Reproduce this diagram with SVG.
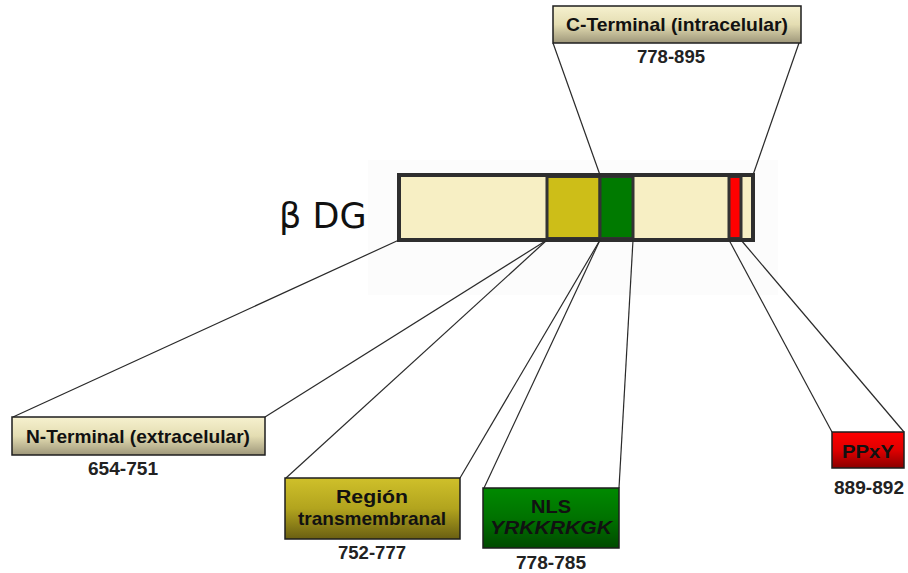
<svg xmlns="http://www.w3.org/2000/svg" width="908" height="573" viewBox="0 0 908 573">
<defs>
<linearGradient id="gBeige" x1="0" y1="0" x2="0" y2="1">
<stop offset="0" stop-color="#F6F1CF"/><stop offset="0.5" stop-color="#E4DDB2"/><stop offset="1" stop-color="#9E977A"/>
</linearGradient>
<linearGradient id="gOlive" x1="0" y1="0" x2="0" y2="1">
<stop offset="0" stop-color="#CFC02A"/><stop offset="0.5" stop-color="#B2A41E"/><stop offset="1" stop-color="#6A5F12"/>
</linearGradient>
<linearGradient id="gGreen" x1="0" y1="0" x2="0" y2="1">
<stop offset="0" stop-color="#008A00"/><stop offset="0.5" stop-color="#007200"/><stop offset="1" stop-color="#004A00"/>
</linearGradient>
<linearGradient id="gRed" x1="0" y1="0" x2="0" y2="1">
<stop offset="0" stop-color="#FF0000"/><stop offset="0.5" stop-color="#E00000"/><stop offset="1" stop-color="#8A0000"/>
</linearGradient>
</defs>
<style>
.box{stroke:#1E1E1E;stroke-width:1.5}
.lbl{font-family:"Liberation Sans",Arial,sans-serif;font-weight:bold;font-size:19px;fill:#111;text-anchor:middle}
.num{font-family:"Liberation Sans",Arial,sans-serif;font-weight:bold;font-size:18px;fill:#222;text-anchor:middle}
.seg{stroke:#333;stroke-width:3}
.conn line{stroke:#2a2a2a;stroke-width:1.2}
</style>
<rect x="0" y="0" width="908" height="573" fill="#FFFFFF"/>
<rect x="368" y="160" width="410" height="135" fill="#FCFCFC"/>

<g id="protein">
<text x="279" y="228" font-family="DejaVu Sans,Verdana,sans-serif" font-size="35" fill="#111">β DG</text>
<rect x="399" y="175" width="354" height="65" fill="#F7EFC4" stroke="#2E2E2E" stroke-width="4"/>
<rect x="547" y="176.5" width="53" height="62" fill="#CDBE18" class="seg"/>
<rect x="600" y="176.5" width="33" height="62" fill="#007A00" class="seg"/>
<rect x="729" y="176.5" width="12" height="62" fill="#FF0000" class="seg"/>
<rect x="399" y="175" width="354" height="65" fill="none" stroke="#2E2E2E" stroke-width="4"/>
</g>

<g class="conn" id="connectors">
<line x1="553" y1="43" x2="600" y2="175"/>
<line x1="799" y1="43" x2="753" y2="175"/>
<line x1="399" y1="240" x2="13" y2="417"/>
<line x1="547" y1="240" x2="265" y2="417"/>
<line x1="547" y1="240" x2="286" y2="478"/>
<line x1="600" y1="240" x2="460" y2="478"/>
<line x1="600" y1="240" x2="484" y2="488"/>
<line x1="633" y1="240" x2="619" y2="488"/>
<line x1="729" y1="240" x2="832" y2="432"/>
<line x1="741" y1="240" x2="904" y2="432"/>
</g>

<g id="cterm">
<rect x="553" y="6" width="248" height="37" fill="url(#gBeige)" class="box"/>
<text x="677" y="31" class="lbl" textLength="222" lengthAdjust="spacingAndGlyphs">C-Terminal (intracelular)</text>
<text x="671" y="63" class="num" textLength="68" lengthAdjust="spacingAndGlyphs">778-895</text>
</g>

<g id="nterm">
<rect x="12" y="417" width="253" height="38" fill="url(#gBeige)" class="box"/>
<text x="138" y="443" class="lbl" textLength="224" lengthAdjust="spacingAndGlyphs">N-Terminal (extracelular)</text>
<text x="123" y="475" class="num" textLength="70" lengthAdjust="spacingAndGlyphs">654-751</text>
</g>

<g id="tm">
<rect x="285" y="478" width="175" height="61" fill="url(#gOlive)" class="box"/>
<text x="372" y="503" class="lbl" textLength="72" lengthAdjust="spacingAndGlyphs">Región</text>
<text x="372" y="525" class="lbl" textLength="148" lengthAdjust="spacingAndGlyphs">transmembranal</text>
<text x="372" y="559" class="num" textLength="68" lengthAdjust="spacingAndGlyphs">752-777</text>
</g>

<g id="nls">
<rect x="483" y="488" width="136" height="60" fill="url(#gGreen)" class="box"/>
<text x="551" y="513" class="lbl" textLength="40" lengthAdjust="spacingAndGlyphs">NLS</text>
<text x="551" y="534" class="lbl" font-style="italic" textLength="122" lengthAdjust="spacingAndGlyphs">YRKKRKGK</text>
<text x="551" y="569" class="num" textLength="70" lengthAdjust="spacingAndGlyphs">778-785</text>
</g>

<g id="ppxy">
<rect x="832" y="432" width="72" height="36" fill="url(#gRed)" class="box"/>
<text x="868" y="458" class="lbl" textLength="52" lengthAdjust="spacingAndGlyphs">PPxY</text>
<text x="869" y="494" class="num" textLength="70" lengthAdjust="spacingAndGlyphs">889-892</text>
</g>
</svg>
